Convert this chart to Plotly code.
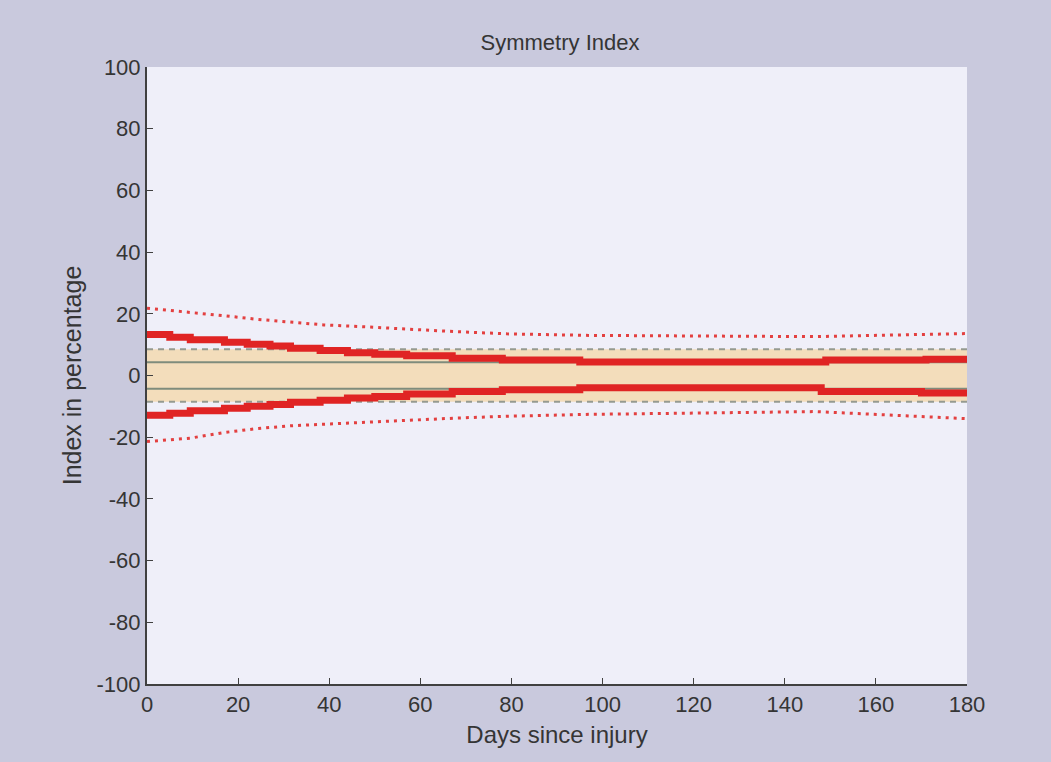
import plotly.graph_objects as go

# ---- data ----
days_red_up = [0, 5, 9.5, 17, 22, 27, 31.5, 38, 44, 50, 57, 67, 78, 95, 149, 171, 180]
red_up = [13.3, 12.4, 11.6, 10.8, 10.1, 9.6, 8.8, 8.1, 7.4, 6.9, 6.4, 5.6, 5.0, 4.4, 5.0, 5.3, 5.3]
days_red_lo = [0, 5, 9.5, 17, 22, 27, 31.5, 38, 44, 50, 57, 67, 78, 95, 148, 170, 180]
red_lo = [-12.9, -12.2, -11.4, -10.6, -10.0, -9.4, -8.7, -8.0, -7.3, -6.8, -6.0, -5.2, -4.6, -4.0, -5.2, -5.7, -5.7]

days_dot = [0, 9.5, 16.8, 24.2, 31.5, 38.8, 46.2, 53.5, 63, 68, 79, 97, 146.6, 169.5, 180]
dot_up = [21.8, 20.5, 19.4, 18.2, 17.2, 16.4, 15.9, 15.3, 14.6, 14.2, 13.5, 13.0, 12.6, 13.2, 13.6]
dot_lo = [-21.4, -20.3, -18.5, -17.2, -16.3, -15.8, -15.3, -14.8, -14.0, -13.8, -13.2, -12.6, -11.7, -13.3, -14.0]

band_days = [0, 180]
band_outer = 8.5
band_inner = 4.3

x_ticks = [0, 20, 40, 60, 80, 100, 120, 140, 160, 180]
y_ticks = [-100, -80, -60, -40, -20, 0, 20, 40, 60, 80, 100]
y_tick_text = ["-100", "-80", "-60", "-40", "-20", "0", "20", "40", "60", "80", "100"]

fig = go.Figure()

# tan band between dashed limits
fig.add_trace(go.Scatter(x=band_days, y=[-band_outer] * 2, mode="lines",
                         line=dict(width=0), showlegend=False, hoverinfo="skip"))
fig.add_trace(go.Scatter(x=band_days, y=[band_outer] * 2, mode="lines",
                         line=dict(width=0), fill="tonexty", fillcolor="#f3ddbb",
                         showlegend=False, hoverinfo="skip"))

# gray dashed and solid lines
for v in (band_outer, -band_outer):
    fig.add_trace(go.Scatter(x=band_days, y=[v] * 2, mode="lines",
                             line=dict(color="#959a90", width=2, dash="6px,5px"),
                             showlegend=False))
for v in (band_inner, -band_inner):
    fig.add_trace(go.Scatter(x=band_days, y=[v] * 2, mode="lines",
                             line=dict(color="#7f8c7c", width=2),
                             showlegend=False))

# thick red step lines
fig.add_trace(go.Scatter(x=days_red_up, y=red_up, mode="lines", line_shape="hv",
                         line=dict(color="#e02424", width=7), showlegend=False))
fig.add_trace(go.Scatter(x=days_red_lo, y=red_lo, mode="lines", line_shape="hv",
                         line=dict(color="#e02424", width=7), showlegend=False))

# dotted red lines
for yy in (dot_up, dot_lo):
    fig.add_trace(go.Scatter(x=days_dot, y=yy, mode="lines",
                             line=dict(color="#e34040", width=3, dash="3px,5px"),
                             showlegend=False))

font_family = "Liberation Sans Narrow, Liberation Sans, Arial, sans-serif"

fig.update_layout(
    width=1051, height=762,
    paper_bgcolor="#c9c9dd",
    plot_bgcolor="#efeff9",
    margin=dict(l=147, r=84, t=67, b=78),
    title=dict(text="Symmetry Index", x=560 / 1051, xref="container", xanchor="center",
               y=1 - 42 / 762, yref="container", yanchor="middle",
               font=dict(family=font_family, size=22, color="#353535")),
    font=dict(family=font_family, size=22, color="#353535"),
)
fig.update_xaxes(range=[0, 180], tickvals=x_ticks, ticks="inside", ticklen=6,
                 tickcolor="#404040", showline=True, linecolor="#404040", linewidth=2,
                 showgrid=False, zeroline=False,
                 title=dict(text="Days since injury", standoff=10,
                            font=dict(size=24)),
                 tickfont=dict(size=22))
fig.update_yaxes(range=[-100, 100], tickvals=y_ticks, ticktext=y_tick_text,
                 ticks="inside", ticklen=6,
                 tickcolor="#404040", showline=True, linecolor="#404040", linewidth=2,
                 showgrid=False, zeroline=False,
                 title=dict(text="Index in percentage", standoff=8,
                            font=dict(size=25)),
                 tickfont=dict(size=22))

fig.write_html("out.html")
